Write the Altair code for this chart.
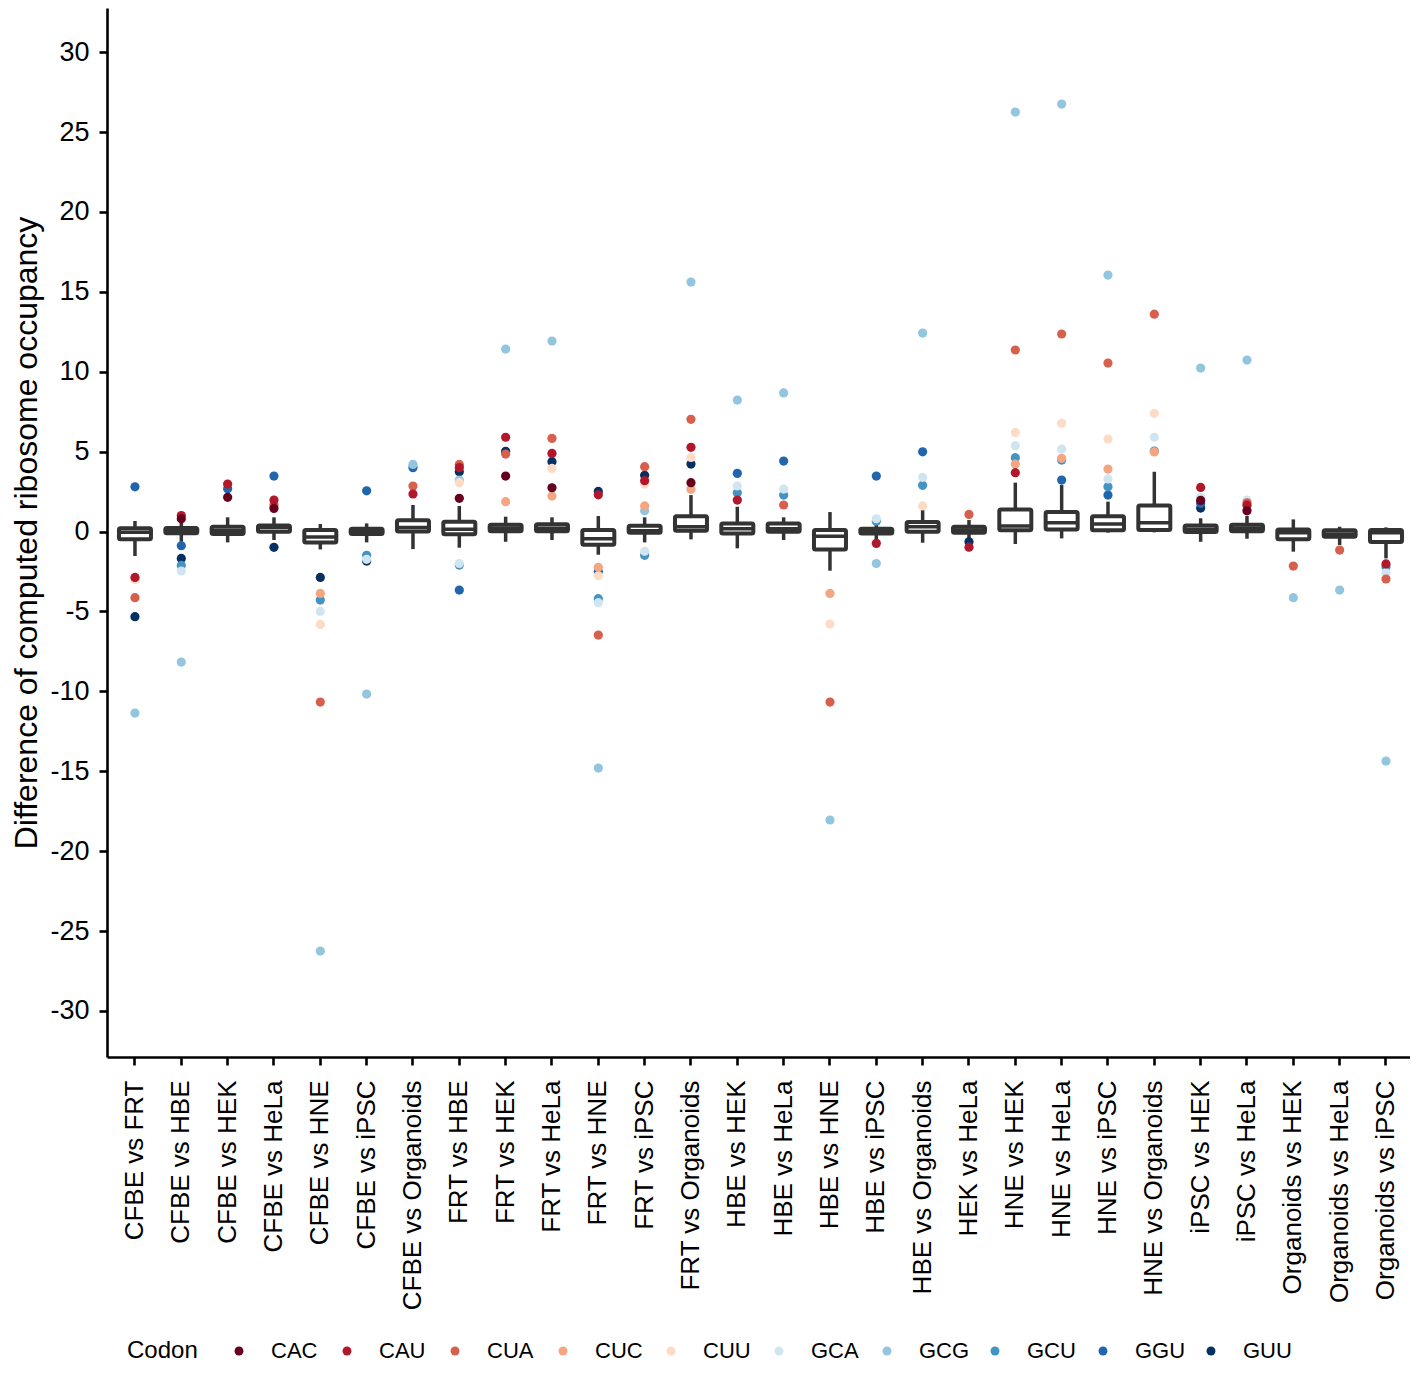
import altair as alt
import pandas as pd

categories = [
    "CFBE vs FRT", "CFBE vs HBE", "CFBE vs HEK", "CFBE vs HeLa", "CFBE vs HNE",
    "CFBE vs iPSC", "CFBE vs Organoids", "FRT vs HBE", "FRT vs HEK", "FRT vs HeLa",
    "FRT vs HNE", "FRT vs iPSC", "FRT vs Organoids", "HBE vs HEK", "HBE vs HeLa",
    "HBE vs HNE", "HBE vs iPSC", "HBE vs Organoids", "HEK vs HeLa", "HNE vs HEK",
    "HNE vs HeLa", "HNE vs iPSC", "HNE vs Organoids", "iPSC vs HEK", "iPSC vs HeLa",
    "Organoids vs HEK", "Organoids vs HeLa", "Organoids vs iPSC",
]
q1 = [-0.49, -0.10, -0.15, -0.02, -0.69, -0.15, 0.00, -0.17, 0.02, 0.02,
      -0.82, -0.07, 0.05, -0.13, -0.02, -1.12, -0.12, -0.02, -0.07, 0.08,
      0.12, 0.08, 0.10, -0.03, 0.02, -0.48, -0.33, -0.65]
median = [-0.05, 0.05, 0.05, 0.25, -0.34, 0.00, 0.25, 0.15, 0.20, 0.20,
          -0.45, 0.05, 0.30, 0.18, 0.18, -0.30, 0.00, 0.30, 0.10, 0.35,
          0.55, 0.47, 0.55, 0.15, 0.20, -0.08, -0.15, -0.08]
q3 = [0.20, 0.22, 0.30, 0.38, 0.10, 0.17, 0.70, 0.62, 0.42, 0.46,
      0.10, 0.36, 0.95, 0.50, 0.50, 0.10, 0.17, 0.60, 0.30, 1.38,
      1.22, 0.95, 1.63, 0.38, 0.42, 0.12, 0.08, 0.10]
whisker_low = [-1.53, -0.64, -0.68, -0.53, -1.12, -0.68, -1.10, -1.01, -0.64, -0.53,
               -1.45, -0.68, -0.49, -1.05, -0.53, -2.45, -0.64, -0.70, -0.57, -0.78,
               -0.43, -0.07, -0.05, -0.64, -0.45, -1.26, -0.84, -1.68]
whisker_high = [0.66, 0.80, 0.89, 0.89, 0.47, 0.51, 1.66, 1.60, 0.93, 0.89,
                0.97, 0.89, 2.28, 1.55, 0.89, 1.22, 0.72, 1.35, 0.72, 3.06,
                2.91, 1.87, 3.74, 0.83, 0.97, 0.76, 0.30, 0.26]

codons = ["CAC", "CAU", "CUA", "CUC", "CUU", "GCA", "GCG", "GCU", "GGU", "GUU"]
codon_colors = ["#67001f", "#b2182b", "#d6604d", "#f4a582", "#fddbc7",
                "#d1e5f0", "#92c5de", "#4393c3", "#2166ac", "#053061"]

# (comparison, codon, value) for the individually plotted codons
outliers = [
    ("CFBE vs FRT", "GGU", 2.8), ("CFBE vs FRT", "CAU", -2.87), ("CFBE vs FRT", "CUU", -3.0),
    ("CFBE vs FRT", "CUA", -4.14), ("CFBE vs FRT", "GUU", -5.33), ("CFBE vs FRT", "GCG", -11.36),
    ("CFBE vs HBE", "CAU", 1.0), ("CFBE vs HBE", "CAC", 0.8), ("CFBE vs HBE", "GGU", -0.89),
    ("CFBE vs HBE", "GUU", -1.68), ("CFBE vs HBE", "GCU", -2.12), ("CFBE vs HBE", "GCA", -2.47),
    ("CFBE vs HBE", "GCG", -8.17),
    ("CFBE vs HEK", "CAU", 2.97), ("CFBE vs HEK", "GGU", 2.68), ("CFBE vs HEK", "CAC", 2.14),
    ("CFBE vs HeLa", "GGU", 3.47), ("CFBE vs HeLa", "CAU", 1.97), ("CFBE vs HeLa", "CUA", 1.66),
    ("CFBE vs HeLa", "CAC", 1.45), ("CFBE vs HeLa", "GUU", -0.99),
    ("CFBE vs HNE", "GUU", -2.87), ("CFBE vs HNE", "CUC", -3.87), ("CFBE vs HNE", "GCU", -4.29),
    ("CFBE vs HNE", "GCA", -5.0), ("CFBE vs HNE", "CUU", -5.81), ("CFBE vs HNE", "CUA", -10.67),
    ("CFBE vs HNE", "GCG", -26.25),
    ("CFBE vs iPSC", "GGU", 2.55), ("CFBE vs iPSC", "GCU", -1.49), ("CFBE vs iPSC", "GCA", -1.74),
    ("CFBE vs iPSC", "GUU", -1.85), ("CFBE vs iPSC", "GCG", -10.17),
    ("CFBE vs Organoids", "GCG", 4.2), ("CFBE vs Organoids", "GGU", 4.0),
    ("CFBE vs Organoids", "CUA", 2.85), ("CFBE vs Organoids", "CAU", 2.35),
    ("FRT vs HBE", "CUA", 4.2), ("FRT vs HBE", "CAU", 4.0), ("FRT vs HBE", "GUU", 3.74),
    ("FRT vs HBE", "GCG", 3.22), ("FRT vs HBE", "CUU", 3.06), ("FRT vs HBE", "CAC", 2.08),
    ("FRT vs HBE", "GCA", -2.0), ("FRT vs HBE", "GCU", -2.1), ("FRT vs HBE", "GGU", -3.66),
    ("FRT vs HEK", "CAU", 5.9), ("FRT vs HEK", "GUU", 5.02), ("FRT vs HEK", "CUA", 4.85),
    ("FRT vs HEK", "CAC", 3.47), ("FRT vs HEK", "CUC", 1.87), ("FRT vs HEK", "GCG", 11.42),
    ("FRT vs HeLa", "CUA", 5.83), ("FRT vs HeLa", "CAU", 4.89), ("FRT vs HeLa", "GUU", 4.37),
    ("FRT vs HeLa", "CUU", 3.95), ("FRT vs HeLa", "CAC", 2.74), ("FRT vs HeLa", "CUC", 2.22),
    ("FRT vs HeLa", "GCG", 11.92),
    ("FRT vs HNE", "GUU", 2.51), ("FRT vs HNE", "CAU", 2.3), ("FRT vs HNE", "CUC", -2.24),
    ("FRT vs HNE", "GGU", -2.5), ("FRT vs HNE", "CUU", -2.76), ("FRT vs HNE", "GCU", -4.2),
    ("FRT vs HNE", "GCA", -4.45), ("FRT vs HNE", "CUA", -6.48), ("FRT vs HNE", "GCG", -14.8),
    ("FRT vs iPSC", "CUA", 4.06), ("FRT vs iPSC", "GUU", 3.52), ("FRT vs iPSC", "CAU", 3.18),
    ("FRT vs iPSC", "CUU", 2.97), ("FRT vs iPSC", "CUC", 1.6), ("FRT vs iPSC", "GCG", 1.3),
    ("FRT vs iPSC", "GCA", -1.24), ("FRT vs iPSC", "GCU", -1.49),
    ("FRT vs Organoids", "CUA", 7.02), ("FRT vs Organoids", "CAU", 5.27),
    ("FRT vs Organoids", "CUU", 4.64), ("FRT vs Organoids", "GUU", 4.22),
    ("FRT vs Organoids", "CAC", 3.06), ("FRT vs Organoids", "CUC", 2.64),
    ("FRT vs Organoids", "GCG", 15.61),
    ("HBE vs HEK", "GGU", 3.64), ("HBE vs HEK", "GCA", 2.85), ("HBE vs HEK", "GCU", 2.43),
    ("HBE vs HEK", "CAU", 1.97), ("HBE vs HEK", "GCG", 8.23),
    ("HBE vs HeLa", "GGU", 4.41), ("HBE vs HeLa", "GCA", 2.66), ("HBE vs HeLa", "GCU", 2.28),
    ("HBE vs HeLa", "CUA", 1.66), ("HBE vs HeLa", "GCG", 8.67),
    ("HBE vs HNE", "CUC", -3.87), ("HBE vs HNE", "CUU", -5.79), ("HBE vs HNE", "CUA", -10.67),
    ("HBE vs HNE", "GCG", -18.05),
    ("HBE vs iPSC", "GGU", 3.47), ("HBE vs iPSC", "GCA", 0.8), ("HBE vs iPSC", "GCU", 0.65),
    ("HBE vs iPSC", "CAU", -0.74), ("HBE vs iPSC", "GCG", -2.0),
    ("HBE vs Organoids", "GGU", 4.99), ("HBE vs Organoids", "GCA", 3.39),
    ("HBE vs Organoids", "GCU", 2.89), ("HBE vs Organoids", "CUU", 1.6),
    ("HBE vs Organoids", "GCG", 12.42),
    ("HEK vs HeLa", "CUA", 1.07), ("HEK vs HeLa", "GUU", -0.64), ("HEK vs HeLa", "CAU", -0.98),
    ("HNE vs HEK", "CUU", 6.2), ("HNE vs HEK", "GCA", 5.37), ("HNE vs HEK", "GCU", 4.62),
    ("HNE vs HEK", "CUC", 4.22), ("HNE vs HEK", "CAU", 3.68), ("HNE vs HEK", "CUA", 11.36),
    ("HNE vs HEK", "GCG", 26.25),
    ("HNE vs HeLa", "CUU", 6.77), ("HNE vs HeLa", "GCA", 5.16), ("HNE vs HeLa", "CUC", 4.58),
    ("HNE vs HeLa", "GCU", 4.47), ("HNE vs HeLa", "GGU", 3.22), ("HNE vs HeLa", "CUA", 12.36),
    ("HNE vs HeLa", "GCG", 26.75),
    ("HNE vs iPSC", "CUU", 5.79), ("HNE vs iPSC", "CUC", 3.91), ("HNE vs iPSC", "GCA", 3.29),
    ("HNE vs iPSC", "GCU", 2.8), ("HNE vs iPSC", "GGU", 2.28), ("HNE vs iPSC", "CUA", 10.54),
    ("HNE vs iPSC", "GCG", 16.05),
    ("HNE vs Organoids", "CUU", 7.4), ("HNE vs Organoids", "GCA", 5.9),
    ("HNE vs Organoids", "GCU", 5.04), ("HNE vs Organoids", "CUC", 4.98),
    ("HNE vs Organoids", "CUA", 13.6),
    ("iPSC vs HEK", "CAU", 2.76), ("iPSC vs HEK", "GCA", 2.14), ("iPSC vs HEK", "CAC", 1.95),
    ("iPSC vs HEK", "GGU", 1.76), ("iPSC vs HEK", "GUU", 1.47), ("iPSC vs HEK", "GCG", 10.23),
    ("iPSC vs HeLa", "GCA", 1.97), ("iPSC vs HeLa", "CUA", 1.8), ("iPSC vs HeLa", "CAU", 1.65),
    ("iPSC vs HeLa", "CAC", 1.3), ("iPSC vs HeLa", "GCG", 10.73),
    ("Organoids vs HEK", "CUA", -2.16), ("Organoids vs HEK", "GCG", -4.14),
    ("Organoids vs HeLa", "CUA", -1.16), ("Organoids vs HeLa", "GCG", -3.66),
    ("Organoids vs iPSC", "CAU", -2.03), ("Organoids vs iPSC", "GCU", -2.2),
    ("Organoids vs iPSC", "GCA", -2.58), ("Organoids vs iPSC", "CUA", -2.97),
    ("Organoids vs iPSC", "GCG", -14.36),
]

box_df = pd.DataFrame({
    "comparison": categories, "q1": q1, "median": median, "q3": q3,
    "wlo": whisker_low, "whi": whisker_high,
})
pts_df = pd.DataFrame(outliers, columns=["comparison", "codon", "value"])
pts_df["order"] = pts_df["codon"].map({c: i for i, c in enumerate(codons)})
pts_df = pts_df.sort_values("order", ascending=False, kind="stable")

FONT = "Liberation Sans"
YTITLE = "Difference of computed ribosome occupancy"
LINE = "#333333"

x_enc = alt.X(
    "comparison:N", sort=categories, title=None,
    scale=alt.Scale(type="band", paddingInner=0, paddingOuter=0.061, align=0.85),
    axis=alt.Axis(labelAngle=-90, labelFontSize=26, labelPadding=15, tickSize=8,
                  tickWidth=2.6, domainWidth=2.6, domainColor="black", tickColor="black",
                  labelColor="black", labelFont=FONT, labelLimit=400),
)
y_scale = alt.Scale(domain=[-32.88, 32.76], nice=False, zero=False)
y_axis = alt.Axis(
    values=list(range(-30, 31, 5)), labelFontSize=27, labelFont=FONT, labelColor="black",
    labelPadding=10, tickSize=8, tickWidth=2.6, domainWidth=2.6, domainColor="black",
    tickColor="black", grid=False,
    labelExpr="datum.value < 0 ? '-' + abs(datum.value) : '' + datum.value",
    titleFontSize=32, titleFont=FONT, titleFontWeight="normal", titleColor="black",
    titleX=-64,
)


def yq(field):
    return alt.Y(f"{field}:Q", scale=y_scale, axis=y_axis, title=YTITLE)


whiskers = alt.Chart(box_df).mark_rule(color=LINE, strokeWidth=3.5, opacity=1).encode(
    x=x_enc, y=yq("wlo"), y2="whi:Q")
boxes = alt.Chart(box_df).mark_bar(fill="white", stroke=LINE, strokeWidth=4, size=32,
                                   cornerRadius=1.5, opacity=1).encode(
    x=x_enc, y=yq("q1"), y2="q3:Q")
medians = alt.Chart(box_df).mark_tick(color=LINE, thickness=3.5, size=32, opacity=1).encode(
    x=x_enc, y=yq("median"))
points = alt.Chart(pts_df).mark_circle(size=85, opacity=1).encode(
    x=x_enc, y=yq("value"),
    color=alt.Color(
        "codon:N",
        scale=alt.Scale(domain=codons, range=codon_colors),
        legend=alt.Legend(
            title="Codon", orient="none", legendX=20, legendY=1332,
            direction="horizontal", columns=10, titleOrient="left",
            titleFontSize=24, titleFont=FONT, titleFontWeight="normal", titleColor="black",
            titlePadding=30, labelFontSize=22, labelFont=FONT, labelColor="black",
            labelOffset=21, symbolType="circle", symbolSize=80, symbolStrokeWidth=0,
            columnPadding=14, gridAlign="all",
        ),
    ),
    order=alt.Order("order:Q", sort="descending"),
)

chart = alt.layer(whiskers, boxes, medians, points).properties(
    width=1303, height=1049,
    autosize=alt.AutoSizeParams(type="none"),
    padding={"left": 99, "top": 0, "right": 0, "bottom": 308},
).configure_view(stroke=None).configure_axis(titleFontWeight="normal")

chart.save("out.html", embed_options={"renderer": "svg", "actions": False})
